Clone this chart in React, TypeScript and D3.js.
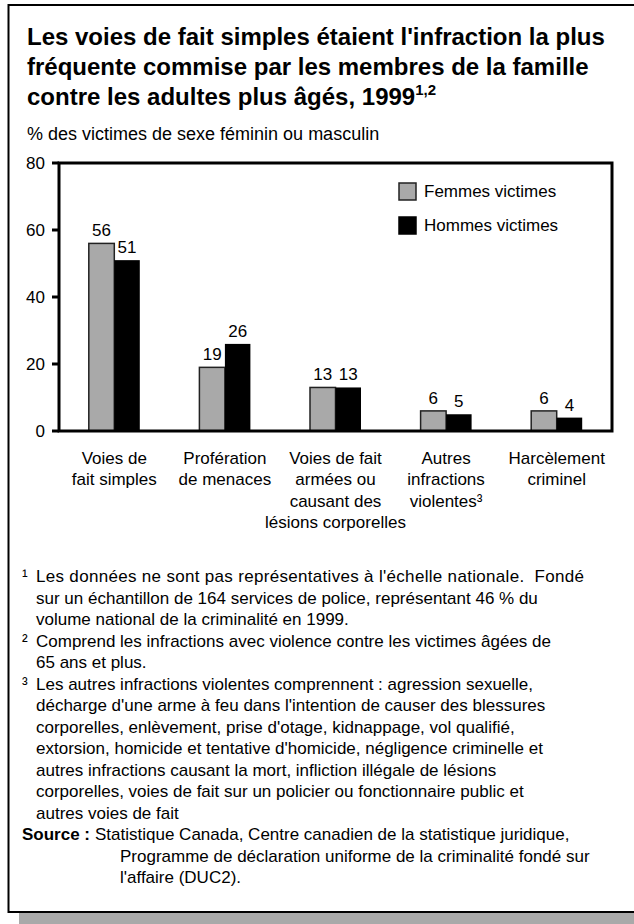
import React from "react";
import * as d3 from "d3";

const categories = [
  ["Voies de", "fait simples"],
  ["Profération", "de menaces"],
  ["Voies de fait", "armées ou", "causant des", "lésions corporelles"],
  ["Autres", "infractions", "violentes³"],
  ["Harcèlement", "criminel"],
];
const femmes = [56, 19, 13, 6, 6];
const hommes = [51, 26, 13, 5, 4];
const yTicks = [0, 20, 40, 60, 80];
const seriesNames = ["Femmes victimes", "Hommes victimes"];

const titleLines = [
  "Les voies de fait simples étaient l'infraction la plus",
  "fréquente commise par les membres de la famille",
  "contre les adultes plus âgés, 1999",
];
const subtitle = "% des victimes de sexe féminin ou masculin";

const footnotes = [
  {
    mark: "¹",
    lines: [
      "Les données ne sont pas représentatives à l'échelle nationale.  Fondé",
      "sur un échantillon de 164 services de police, représentant 46 % du",
      "volume national de la criminalité en 1999.",
    ],
  },
  {
    mark: "²",
    lines: [
      "Comprend les infractions avec violence contre les victimes âgées de",
      "65 ans et plus.",
    ],
  },
  {
    mark: "³",
    lines: [
      "Les autres infractions violentes comprennent : agression sexuelle,",
      "décharge d'une arme à feu dans l'intention de causer des blessures",
      "corporelles, enlèvement, prise d'otage, kidnappage, vol qualifié,",
      "extorsion, homicide et tentative d'homicide, négligence criminelle et",
      "autres infractions causant la mort, infliction illégale de lésions",
      "corporelles, voies de fait sur un policier ou fonctionnaire public et",
      "autres voies de fait",
    ],
  },
];
const sourceLines = [
  "Statistique Canada, Centre canadien de la statistique juridique,",
  "Programme de déclaration uniforme de la criminalité fondé sur",
  "l'affaire (DUC2).",
];

const W = 634;
const H = 924;
const FONT = "Arial, 'Liberation Sans', Helvetica, sans-serif";
const GRAY = "#a9a9a9";

export default function App() {
  const plot = { left: 59, right: 612, top: 163, bottom: 431 };
  const y = d3.scaleLinear().domain([0, 80]).range([plot.bottom, plot.top]);
  const x = d3
    .scaleBand<number>()
    .domain(d3.range(categories.length))
    .range([plot.left, plot.right]);
  const barW = 25.5;
  const fs = 17;
  const lineH = 21.5;
  const fnTop = 582;

  let fnLine = 0;
  const fnEls: React.ReactNode[] = [];
  footnotes.forEach((fn, i) => {
    fn.lines.forEach((ln, j) => {
      const yy = fnTop + fnLine * lineH;
      if (j === 0) {
        fnEls.push(
          <text key={`m${i}`} x={22} y={yy} fontSize={fs}>
            {fn.mark}
          </text>
        );
      }
      const extra =
        i === 0 && j === 0 ? { textLength: 548, lengthAdjust: "spacing" } : {};
      fnEls.push(
        <text
          key={`l${i}-${j}`}
          x={36}
          y={yy}
          fontSize={fs}
          style={{ whiteSpace: "pre" }}
          {...extra}
        >
          {ln}
        </text>
      );
      fnLine++;
    });
  });
  const srcTop = fnTop + fnLine * lineH;

  return (
    <svg
      width={W}
      height={H}
      style={{ position: "absolute", left: 0, top: 0, background: "#fff" }}
      fontFamily={FONT}
    >
      <rect x={0} y={0} width={W} height={H} fill="#fff" />
      {/* shadow */}
      <rect x={19} y={913} width={W} height={20} fill={GRAY} />
      {/* frame */}
      <rect
        x={8.5}
        y={5}
        width={W + 20}
        height={907}
        fill="#fff"
        stroke="#000"
        strokeWidth={2}
      />
      {/* title */}
      <text fontSize={24} fontWeight="bold" fill="#000">
        {titleLines.map((t, i) => (
          <tspan key={i} x={27} y={45 + i * 30}>
            {t}
            {i === titleLines.length - 1 ? (
              <tspan fontSize={15} dy={-10}>
                1,2
              </tspan>
            ) : null}
          </tspan>
        ))}
      </text>
      <text x={27} y={140} fontSize={18}>
        {subtitle}
      </text>

      {/* y axis */}
      {yTicks.map((t) => (
        <g key={t}>
          <line x1={52} x2={plot.left} y1={y(t)} y2={y(t)} stroke="#000" strokeWidth={3} />
          <text
            x={45}
            y={y(t)}
            fontSize={fs}
            textAnchor="end"
            dominantBaseline="central"
          >
            {t}
          </text>
        </g>
      ))}

      {/* bars */}
      {categories.map((c, i) => {
        const cx = (x(i) as number) + x.bandwidth() / 2;
        return (
          <g key={i}>
            <rect
              x={cx - barW}
              y={y(femmes[i])}
              width={barW}
              height={y(0) - y(femmes[i])}
              fill={GRAY}
              stroke="#222"
              strokeWidth={1.5}
            />
            <rect
              x={cx}
              y={y(hommes[i])}
              width={barW}
              height={y(0) - y(hommes[i])}
              fill="#000"
            />
            <text x={cx - barW / 2} y={y(femmes[i]) - 7} fontSize={fs} textAnchor="middle">
              {femmes[i]}
            </text>
            <text x={cx + barW / 2} y={y(hommes[i]) - 7} fontSize={fs} textAnchor="middle">
              {hommes[i]}
            </text>
            {c.map((ln, k) => (
              <text key={k} x={cx} y={464 + k * 21.3} fontSize={fs} textAnchor="middle">
                {ln}
              </text>
            ))}
          </g>
        );
      })}

      {/* plot frame */}
      <rect
        x={plot.left}
        y={plot.top}
        width={plot.right - plot.left}
        height={plot.bottom - plot.top}
        fill="none"
        stroke="#000"
        strokeWidth={3}
      />

      {/* legend */}
      {seriesNames.map((s, i) => (
        <g key={s} transform={`translate(0, ${183 + i * 34})`}>
          <rect
            x={399}
            y={0}
            width={17}
            height={17}
            fill={i === 0 ? GRAY : "#000"}
            stroke={i === 0 ? "#222" : "#000"}
            strokeWidth={1.5}
          />
          <text x={424} y={8.5} fontSize={fs} dominantBaseline="central">
            {s}
          </text>
        </g>
      ))}

      {/* footnotes */}
      {fnEls}
      <text x={22} y={srcTop} fontSize={fs} fontWeight="bold">
        Source :
      </text>
      {sourceLines.map((s, i) => (
        <text key={i} x={i === 0 ? 95 : 120} y={srcTop + i * lineH} fontSize={fs}>
          {s}
        </text>
      ))}
    </svg>
  );
}
